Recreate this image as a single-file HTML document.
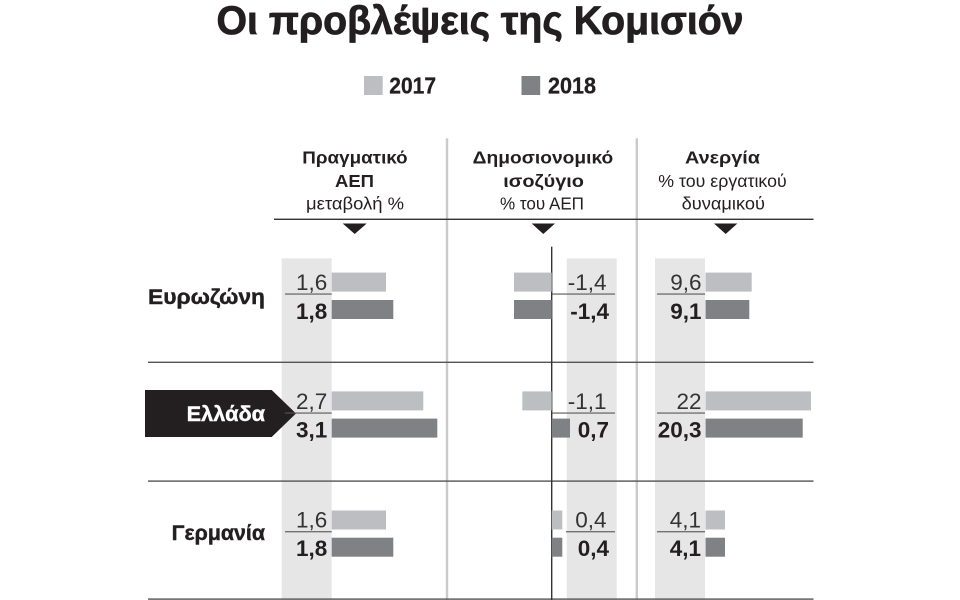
<!DOCTYPE html>
<html>
<head>
<meta charset="utf-8">
<style>
  html,body{margin:0;padding:0;background:#fff;}
  svg{display:block;}
  .t{font-family:"Liberation Sans","DejaVu Sans",sans-serif;fill:#231f20;}
  .b{font-weight:bold;}
</style>
</head>
<body>
<svg width="960" height="600" viewBox="0 0 960 600" xmlns="http://www.w3.org/2000/svg">
  <rect x="0" y="0" width="960" height="600" fill="#fff"/>

  <!-- Title -->
  <text class="t b" x="480" y="34" font-size="40" text-anchor="middle" textLength="527" lengthAdjust="spacingAndGlyphs" stroke="#231f20" stroke-width="0.8">Οι προβλέψεις της Κομισιόν</text>

  <!-- Legend -->
  <rect x="364" y="76" width="18.7" height="19" fill="#bdbec1"/>
  <text class="t b" x="389.3" y="93.3" font-size="23" textLength="46.7" lengthAdjust="spacingAndGlyphs" stroke="#231f20" stroke-width="0.3">2017</text>
  <rect x="521.5" y="76" width="18.7" height="19" fill="#808184"/>
  <text class="t b" x="548" y="93.3" font-size="23" textLength="48" lengthAdjust="spacingAndGlyphs" stroke="#231f20" stroke-width="0.3">2018</text>

  <!-- Grey bands -->
  <rect x="281.7" y="258.3" width="50" height="342" fill="#e6e6e7"/>
  <rect x="566.7" y="258.3" width="50" height="342" fill="#e6e6e7"/>
  <rect x="655" y="258.3" width="50" height="342" fill="#e6e6e7"/>

  <!-- Vertical light separators -->
  <rect x="445.8" y="138.3" width="2.4" height="462" fill="#cacacb"/>
  <rect x="635.6" y="138.3" width="2.4" height="462" fill="#cacacb"/>

  <!-- Column headers -->
  <text class="t b" x="355" y="163.5" font-size="17.5" text-anchor="middle" textLength="105.4" lengthAdjust="spacingAndGlyphs">Πραγματικό</text>
  <text class="t b" x="354.5" y="187" font-size="17.5" text-anchor="middle" textLength="39" lengthAdjust="spacingAndGlyphs">ΑΕΠ</text>
  <text class="t" x="355" y="209.5" font-size="17.5" text-anchor="middle" textLength="98" lengthAdjust="spacingAndGlyphs">μεταβολή %</text>

  <text class="t b" x="543" y="163.5" font-size="17.5" text-anchor="middle" textLength="140.6" lengthAdjust="spacingAndGlyphs">Δημοσιονομικό</text>
  <text class="t b" x="543.6" y="187" font-size="17.5" text-anchor="middle" textLength="80.7" lengthAdjust="spacingAndGlyphs">ισοζύγιο</text>
  <text class="t" x="542" y="209.5" font-size="17.5" text-anchor="middle" textLength="84" lengthAdjust="spacingAndGlyphs">% του ΑΕΠ</text>

  <text class="t b" x="722.5" y="163.5" font-size="17.5" text-anchor="middle" textLength="75" lengthAdjust="spacingAndGlyphs">Ανεργία</text>
  <text class="t" x="722.5" y="187" font-size="17.5" text-anchor="middle" textLength="128.4" lengthAdjust="spacingAndGlyphs">% του εργατικού</text>
  <text class="t" x="723.3" y="209.5" font-size="17.5" text-anchor="middle" textLength="83.3" lengthAdjust="spacingAndGlyphs">δυναμικού</text>

  <!-- Header line and triangles -->
  <rect x="274" y="218.6" width="539.5" height="1.4" fill="#333"/>
  <polygon points="342.7,223.5 366.7,223.5 354.7,234" fill="#231f20"/>
  <polygon points="531.7,223.5 555,223.5 543.3,234" fill="#231f20"/>
  <polygon points="714,223.5 737.4,223.5 725.7,234" fill="#231f20"/>

  <!-- Row separator lines -->
  <rect x="148" y="361.6" width="665.5" height="1.4" fill="#555"/>
  <rect x="148" y="480.4" width="665.5" height="1.4" fill="#555"/>
  <rect x="148" y="598.4" width="665.5" height="1.4" fill="#555"/>

  <!-- Zero axis col 2 -->
  <rect x="551" y="246.7" width="1.4" height="354" fill="#333"/>

  <!-- Row labels -->
  <text class="t b" x="265" y="304" font-size="21" text-anchor="end" textLength="117" lengthAdjust="spacingAndGlyphs" stroke="#231f20" stroke-width="0.4">Ευρωζώνη</text>
  <polygon points="145,390 271.7,390 296,413.5 271.7,437 145,437" fill="#231f20"/>
  <text class="t b" x="265" y="421" font-size="21" text-anchor="end" textLength="78.3" lengthAdjust="spacingAndGlyphs" style="fill:#fff" stroke="#fff" stroke-width="0.4">Ελλάδα</text>
  <text class="t b" x="265" y="540" font-size="21" text-anchor="end" textLength="93.3" lengthAdjust="spacingAndGlyphs" stroke="#231f20" stroke-width="0.4">Γερμανία</text>

  <!-- Small separators under 2017 values -->
  <rect x="285" y="293.5" width="46.7" height="1.1" fill="#555"/>
  <rect x="551.7" y="293.5" width="63.3" height="1.1" fill="#555"/>
  <rect x="657" y="293.5" width="48" height="1.1" fill="#555"/>
  <rect x="285" y="412.5" width="46.7" height="1.1" fill="#555"/>
  <rect x="551.7" y="412.5" width="63.3" height="1.1" fill="#555"/>
  <rect x="657" y="412.5" width="48" height="1.1" fill="#555"/>
  <rect x="285" y="531.2" width="46.7" height="1.1" fill="#555"/>
  <rect x="566" y="531.2" width="49" height="1.1" fill="#555"/>
  <rect x="657" y="531.2" width="48" height="1.1" fill="#555"/>

  <!-- Bars: Eurozone -->
  <rect x="331.7" y="272.6" width="54.3" height="19" fill="#bdbec1"/>
  <rect x="331.7" y="300" width="61.6" height="19" fill="#808184"/>
  <rect x="514" y="272.6" width="37.7" height="19" fill="#bdbec1"/>
  <rect x="514" y="300" width="37.7" height="19" fill="#808184"/>
  <rect x="705.5" y="272.6" width="46.2" height="19" fill="#bdbec1"/>
  <rect x="705.5" y="300" width="43.8" height="19" fill="#808184"/>

  <!-- Bars: Greece -->
  <rect x="331.7" y="391.4" width="91.6" height="19" fill="#bdbec1"/>
  <rect x="331.7" y="418.6" width="105.6" height="19" fill="#808184"/>
  <rect x="522.3" y="391.4" width="29.4" height="19" fill="#bdbec1"/>
  <rect x="551.7" y="418.6" width="18.3" height="19" fill="#808184"/>
  <rect x="705.5" y="391.4" width="105.5" height="19" fill="#bdbec1"/>
  <rect x="705.5" y="418.6" width="97.2" height="19" fill="#808184"/>

  <!-- Bars: Germany -->
  <rect x="331.7" y="510.5" width="54.3" height="19" fill="#bdbec1"/>
  <rect x="331.7" y="537.7" width="61.6" height="19" fill="#808184"/>
  <rect x="551.7" y="510.5" width="10.6" height="19" fill="#bdbec1"/>
  <rect x="551.7" y="537.7" width="10.6" height="19" fill="#808184"/>
  <rect x="705.5" y="510.5" width="19.5" height="19" fill="#bdbec1"/>
  <rect x="705.5" y="537.7" width="19.5" height="19" fill="#808184"/>

  <!-- Values: Eurozone -->
  <text class="t" x="327.3" y="290" font-size="22.5" text-anchor="end" style="fill:#333">1,6</text>
  <text class="t b" x="327.3" y="319" font-size="22.5" text-anchor="end">1,8</text>
  <text class="t" x="606.5" y="290" font-size="22.5" text-anchor="end" style="fill:#333">-1,4</text>
  <text class="t b" x="609" y="319" font-size="22.5" text-anchor="end">-1,4</text>
  <text class="t" x="701.5" y="290" font-size="22.5" text-anchor="end" style="fill:#333">9,6</text>
  <text class="t b" x="701.5" y="319" font-size="22.5" text-anchor="end">9,1</text>

  <!-- Values: Greece -->
  <text class="t" x="327.3" y="408.8" font-size="22.5" text-anchor="end" style="fill:#333">2,7</text>
  <text class="t b" x="327.3" y="437.3" font-size="22.5" text-anchor="end">3,1</text>
  <text class="t" x="606.5" y="408.8" font-size="22.5" text-anchor="end" style="fill:#333">-1,1</text>
  <text class="t b" x="609" y="437.3" font-size="22.5" text-anchor="end">0,7</text>
  <text class="t" x="701.5" y="408.8" font-size="22.5" text-anchor="end" style="fill:#333">22</text>
  <text class="t b" x="701.5" y="437.3" font-size="22.5" text-anchor="end">20,3</text>

  <!-- Values: Germany -->
  <text class="t" x="327.3" y="527.3" font-size="22.5" text-anchor="end" style="fill:#333">1,6</text>
  <text class="t b" x="327.3" y="556" font-size="22.5" text-anchor="end">1,8</text>
  <text class="t" x="606.5" y="527.3" font-size="22.5" text-anchor="end" style="fill:#333">0,4</text>
  <text class="t b" x="609" y="556" font-size="22.5" text-anchor="end">0,4</text>
  <text class="t" x="701" y="527.3" font-size="22.5" text-anchor="end" style="fill:#333">4,1</text>
  <text class="t b" x="701" y="556" font-size="22.5" text-anchor="end">4,1</text>
</svg>
</body>
</html>
